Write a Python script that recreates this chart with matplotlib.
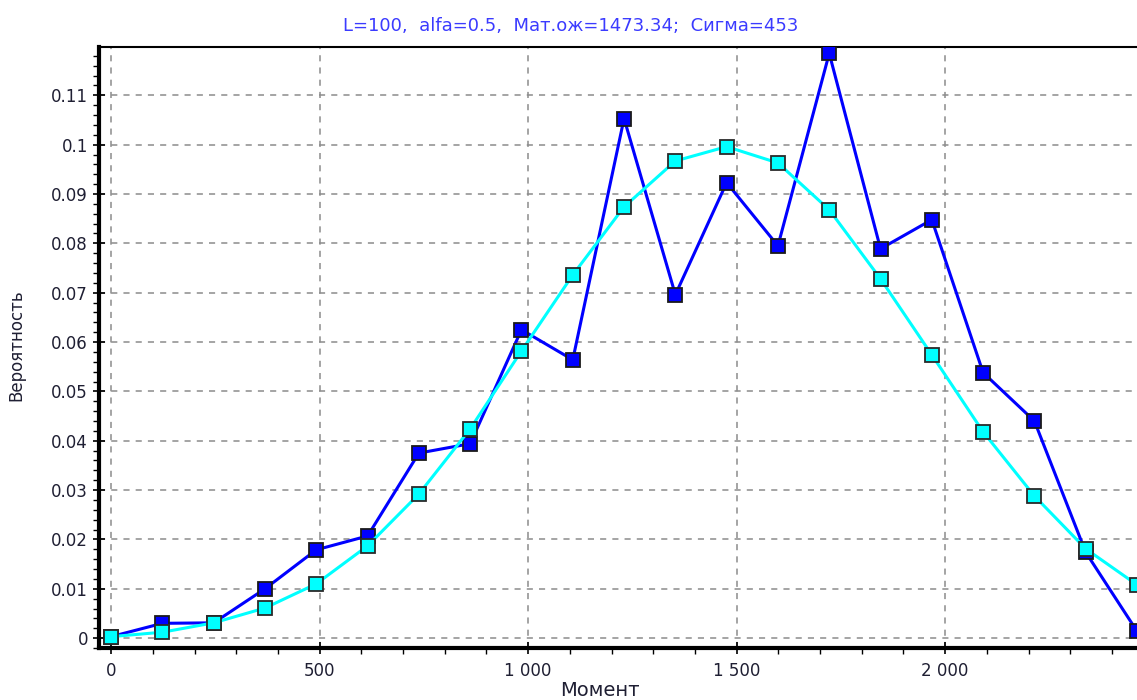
import numpy as np
import matplotlib
matplotlib.use("Agg")
import matplotlib.pyplot as plt
from matplotlib.ticker import MultipleLocator, FuncFormatter

# моменты (шаг 123) и вероятности: эмпирическая и теоретическая кривые
moments = [0, 123, 246, 369, 492, 615, 738, 861, 984, 1107, 1230,
           1353, 1476, 1599, 1722, 1845, 1968, 2091, 2214, 2337, 2460]
p_emp = [0.0003, 0.0030, 0.0031, 0.0100, 0.0179, 0.0207, 0.0375, 0.0394,
         0.0625, 0.0564, 0.1053, 0.0696, 0.0923, 0.0795, 0.1185, 0.0789,
         0.0848, 0.0538, 0.0440, 0.0174, 0.0014]
p_theor = [0.0003, 0.0012, 0.0031, 0.0061, 0.0110, 0.0187, 0.0292, 0.0424,
           0.0582, 0.0736, 0.0874, 0.0967, 0.0996, 0.0963, 0.0868, 0.0728,
           0.0574, 0.0418, 0.0288, 0.0181, 0.0108]

title = "L=100,  alfa=0.5,  Мат.ож=1473.34;  Сигма=453"

plt.rcParams['font.family'] = ['DejaVu Sans']

fig = plt.figure(figsize=(11.37, 7), dpi=100)
ax = fig.add_axes([0.0871, 0.0743, 0.9129, 0.8586])

ax.plot(moments, p_emp, color='#0000ff', linewidth=2.2, marker='s',
        markersize=10, markerfacecolor='#0000ff', markeredgecolor='#1a1a1a',
        markeredgewidth=1.3, zorder=3)
ax.plot(moments, p_theor, color='#00ffff', linewidth=2.2, marker='s',
        markersize=10, markerfacecolor='#00ffff', markeredgecolor='#2a2a2a',
        markeredgewidth=1.3, zorder=4)

ax.set_xlim(-29, 2460)
ax.set_ylim(-0.002, 0.1198)

ax.xaxis.set_major_locator(MultipleLocator(500))
ax.xaxis.set_minor_locator(MultipleLocator(100))
ax.yaxis.set_major_locator(MultipleLocator(0.01))
ax.yaxis.set_minor_locator(MultipleLocator(0.002))
ax.xaxis.set_major_formatter(FuncFormatter(lambda v, p: f"{int(round(v)):,}".replace(",", " ")))
ax.yaxis.set_major_formatter(FuncFormatter(lambda v, p: f"{v:.2f}".rstrip('0').rstrip('.') if v > 0.0001 else "0"))

ax.tick_params(axis='both', which='major', direction='inout', length=8,
               width=1.2, labelsize=12, labelcolor='#1f1f33', pad=4)
ax.tick_params(axis='both', which='minor', direction='out', length=4, width=1)
ax.tick_params(axis='x', which='major', pad=6)

ax.grid(True, which='major', color='#8c8c8c', linestyle=(0, (4, 4)), linewidth=1.1)
ax.set_axisbelow(True)

for side in ('left', 'bottom'):
    ax.spines[side].set_linewidth(3)
ax.spines['top'].set_linewidth(1.5)
ax.spines['right'].set_visible(False)

ax.set_xlabel("Момент", fontsize=14, color='#1f1f33')
ax.xaxis.set_label_coords(0.483, -0.055)
ax.set_ylabel("Вероятность", fontsize=12, color='#1f1f33')
ax.yaxis.set_label_coords(-0.071, 0.504)

ax.text(0.454, 1.035, title, transform=ax.transAxes, ha='center', va='center',
        fontsize=13, color='#3b3bff')

fig.savefig("out.png", dpi=100)
